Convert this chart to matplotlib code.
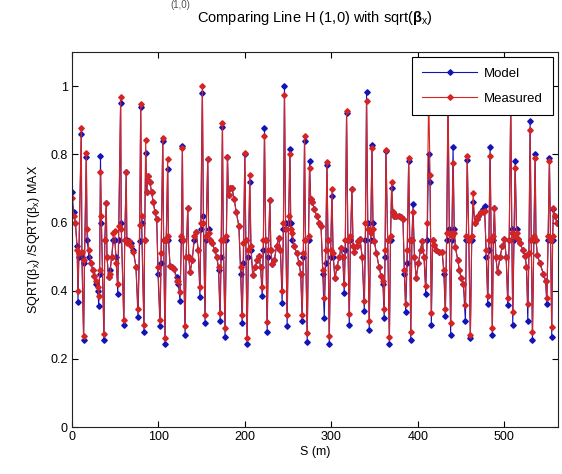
import matplotlib
matplotlib.use("Agg")
import matplotlib.pyplot as plt

plt.rcParams['font.family'] = ['Liberation Sans', 'DejaVu Sans']
plt.rcParams['mathtext.fontset'] = 'custom'
plt.rcParams['mathtext.rm'] = 'Liberation Sans'
plt.rcParams['mathtext.it'] = 'Liberation Sans'
plt.rcParams['mathtext.bf'] = 'Liberation Sans:bold'

# position along the ring (m), model and measured normalized sqrt(beta_x)
s_pos = [0, 2, 4, 6, 7, 8, 10.8, 11.5, 13.5, 14.5, 16.6, 17.5, 19.7, 22, 24, 26, 28, 30, 31, 32,
         33, 34, 37, 38, 39.7, 40.5, 42.4, 44, 46, 48, 49.4, 51, 53, 54, 56.3, 57, 60, 61, 62.8, 63.5,
         65.6, 68, 71, 74, 76.4, 78.3, 79.5, 80.5, 83.3, 84, 85.3, 86.5, 88, 90, 92, 94, 96, 98, 99.5, 101.8,
         103, 105, 106, 107.6, 109, 110.7, 111.5, 113.4, 116, 118, 121, 123, 125, 126.5, 127.7, 128.5, 130.8, 132, 133.9, 135,
         136.6, 139, 141.5, 143.5, 146, 148, 149, 150.8, 152, 153.9, 155, 157, 158, 159.7, 162, 165, 167.5, 169.5, 171.3, 172.5,
         174, 175, 177, 178.5, 179.8, 181, 182.5, 185, 187.5, 190, 193, 195, 196.8, 198.3, 199.9, 201, 202.5, 204, 205.6, 207,
         209, 212, 214, 216, 218, 220, 221.3, 222.6, 224, 225.7, 227, 228.8, 230, 231.5, 234, 236.5, 239, 241, 243, 244.5,
         245.7, 247, 248.8, 250.5, 252, 253, 254.6, 257, 260, 262.4, 264.5, 266.2, 267.5, 268.9, 270, 272, 273.5, 274.7, 276, 278,
         280, 283, 286, 288, 290, 291.7, 293.3, 294.8, 296, 297.5, 299, 300.6, 302, 304, 306.5, 309, 311, 313, 314.8, 316,
         317.5, 319, 320.6, 322, 323.7, 325, 326.4, 329, 331, 333, 335.5, 338, 339.3, 340.6, 342, 343.7, 345.3, 346.9, 348, 349.5,
         352, 355, 357.3, 359.5, 361, 362, 363, 365, 367, 368.3, 369.6, 371, 372.7, 375, 378, 380.5, 382.7, 384.3, 385.8, 387.5,
         389.3, 390.5, 391.7, 393, 394.3, 396, 398, 400.5, 403, 405, 407, 409, 410.7, 412.4, 414, 415.5, 417, 418.6, 421, 424,
         428, 430, 431.7, 433.2, 434.8, 436.3, 437.8, 439.2, 440.6, 442, 443.3, 446, 448, 450, 452.5, 454.9, 456, 457, 458.8, 460.6,
         462.2, 463.8, 465.5, 468, 470, 473, 475, 477, 479, 480.7, 482, 483.4, 484.7, 486, 487.2, 488.4, 490, 492, 495, 497.5,
         500, 502, 503.8, 505.5, 507.3, 508.5, 509.6, 511, 512.4, 514, 515.4, 518, 521, 523.9, 525.5, 527, 528.3, 529.7, 531, 532.4,
         534, 535.5, 536.5, 538, 541, 545, 547.5, 549, 550.5, 552, 553.3, 554.7, 555.7, 556.7, 558.5, 560.5]

model = [0.689, 0.63, 0.60, 0.53, 0.368, 0.50, 0.86, 0.50, 0.254, 0.48, 0.793, 0.55, 0.50, 0.48, 0.46, 0.444, 0.42, 0.40, 0.354, 0.45,
         0.795, 0.60, 0.254, 0.55, 0.656, 0.50, 0.44, 0.46, 0.50, 0.55, 0.55, 0.50, 0.39, 0.55, 0.95, 0.60, 0.30, 0.55, 0.747, 0.55,
         0.547, 0.54, 0.52, 0.47, 0.322, 0.547, 0.94, 0.60, 0.278, 0.55, 0.805, 0.69, 0.737, 0.72, 0.69, 0.66, 0.63, 0.61, 0.45, 0.298,
         0.48, 0.84, 0.55, 0.243, 0.55, 0.756, 0.55, 0.474, 0.47, 0.465, 0.44, 0.42, 0.37, 0.55, 0.824, 0.55, 0.27, 0.50, 0.644, 0.50,
         0.454, 0.49, 0.55, 0.573, 0.52, 0.381, 0.58, 0.98, 0.62, 0.306, 0.55, 0.786, 0.58, 0.55, 0.54, 0.52, 0.498, 0.46, 0.31, 0.50,
         0.88, 0.55, 0.264, 0.55, 0.793, 0.68, 0.70, 0.70, 0.67, 0.63, 0.589, 0.45, 0.306, 0.48, 0.80, 0.55, 0.243, 0.50, 0.72, 0.52,
         0.447, 0.47, 0.49, 0.503, 0.47, 0.386, 0.52, 0.876, 0.55, 0.28, 0.50, 0.667, 0.52, 0.477, 0.49, 0.53, 0.554, 0.52, 0.365, 0.58,
         1.0, 0.60, 0.297, 0.60, 0.817, 0.60, 0.55, 0.53, 0.51, 0.482, 0.45, 0.31, 0.50, 0.84, 0.55, 0.25, 0.55, 0.78, 0.67, 0.66,
         0.64, 0.62, 0.60, 0.59, 0.45, 0.32, 0.48, 0.77, 0.55, 0.244, 0.50, 0.677, 0.50, 0.436, 0.47, 0.50, 0.524, 0.50, 0.394, 0.52,
         0.92, 0.55, 0.30, 0.55, 0.698, 0.53, 0.513, 0.53, 0.545, 0.552, 0.50, 0.342, 0.55, 0.983, 0.60, 0.284, 0.55, 0.827, 0.60, 0.547,
         0.51, 0.47, 0.444, 0.42, 0.32, 0.50, 0.81, 0.55, 0.245, 0.55, 0.70, 0.63, 0.62, 0.62, 0.62, 0.615, 0.611, 0.45, 0.339, 0.48,
         0.78, 0.55, 0.255, 0.55, 0.654, 0.50, 0.436, 0.48, 0.52, 0.547, 0.50, 0.39, 0.55, 0.80, 0.72, 0.30, 0.55, 0.535, 0.52, 0.515,
         0.514, 0.45, 0.325, 0.55, 0.96, 0.58, 0.27, 0.55, 0.823, 0.58, 0.527, 0.49, 0.46, 0.436, 0.42, 0.31, 0.55, 0.785, 0.55, 0.26,
         0.55, 0.66, 0.60, 0.61, 0.62, 0.63, 0.64, 0.649, 0.50, 0.36, 0.52, 0.823, 0.55, 0.27, 0.55, 0.644, 0.50, 0.454, 0.50, 0.53,
         0.553, 0.50, 0.357, 0.55, 0.95, 0.58, 0.30, 0.55, 0.78, 0.58, 0.553, 0.54, 0.52, 0.503, 0.47, 0.31, 0.51, 0.897, 0.55, 0.255,
         0.55, 0.80, 0.55, 0.506, 0.48, 0.45, 0.43, 0.36, 0.55, 0.79, 0.55, 0.265, 0.55, 0.64, 0.62, 0.60]

measured = [0.673, 0.62, 0.60, 0.52, 0.398, 0.51, 0.876, 0.515, 0.267, 0.49, 0.805, 0.58, 0.52, 0.48, 0.46, 0.444, 0.43, 0.41, 0.386, 0.46,
            0.747, 0.62, 0.272, 0.55, 0.656, 0.50, 0.44, 0.45, 0.50, 0.57, 0.576, 0.48, 0.42, 0.59, 0.969, 0.58, 0.313, 0.55, 0.747, 0.54,
            0.547, 0.53, 0.513, 0.47, 0.346, 0.594, 0.947, 0.62, 0.30, 0.55, 0.842, 0.69, 0.737, 0.72, 0.69, 0.66, 0.63, 0.61, 0.47, 0.313,
            0.51, 0.849, 0.55, 0.26, 0.55, 0.787, 0.56, 0.474, 0.47, 0.465, 0.43, 0.43, 0.396, 0.56, 0.82, 0.55, 0.298, 0.50, 0.644, 0.50,
            0.454, 0.49, 0.56, 0.573, 0.52, 0.41, 0.60, 1.0, 0.60, 0.33, 0.56, 0.786, 0.57, 0.55, 0.54, 0.52, 0.498, 0.47, 0.336, 0.55,
            0.893, 0.55, 0.29, 0.56, 0.793, 0.68, 0.70, 0.70, 0.67, 0.63, 0.589, 0.47, 0.33, 0.54, 0.803, 0.55, 0.26, 0.52, 0.74, 0.53,
            0.447, 0.47, 0.49, 0.503, 0.47, 0.41, 0.55, 0.853, 0.55, 0.307, 0.52, 0.667, 0.52, 0.477, 0.49, 0.53, 0.554, 0.52, 0.40, 0.60,
            0.974, 0.58, 0.33, 0.62, 0.80, 0.58, 0.57, 0.53, 0.51, 0.482, 0.45, 0.33, 0.51, 0.853, 0.55, 0.275, 0.56, 0.761, 0.67, 0.66,
            0.64, 0.62, 0.60, 0.59, 0.46, 0.38, 0.52, 0.779, 0.55, 0.267, 0.52, 0.698, 0.51, 0.436, 0.47, 0.50, 0.524, 0.50, 0.42, 0.55,
            0.927, 0.55, 0.333, 0.56, 0.698, 0.53, 0.513, 0.53, 0.545, 0.552, 0.50, 0.37, 0.60, 0.958, 0.58, 0.31, 0.57, 0.82, 0.58, 0.547,
            0.51, 0.47, 0.444, 0.43, 0.345, 0.52, 0.813, 0.55, 0.264, 0.56, 0.719, 0.63, 0.62, 0.62, 0.62, 0.615, 0.611, 0.46, 0.362, 0.52,
            0.79, 0.55, 0.28, 0.55, 0.63, 0.50, 0.436, 0.48, 0.52, 0.547, 0.50, 0.415, 0.60, 0.98, 0.74, 0.336, 0.55, 0.535, 0.52, 0.515,
            0.514, 0.46, 0.345, 0.57, 0.99, 0.57, 0.304, 0.56, 0.775, 0.57, 0.527, 0.49, 0.46, 0.436, 0.42, 0.359, 0.56, 0.795, 0.55, 0.27,
            0.56, 0.687, 0.60, 0.61, 0.62, 0.63, 0.63, 0.635, 0.52, 0.385, 0.55, 0.795, 0.55, 0.29, 0.56, 0.644, 0.50, 0.454, 0.50, 0.53,
            0.553, 0.50, 0.38, 0.55, 0.96, 0.57, 0.337, 0.56, 0.76, 0.57, 0.553, 0.54, 0.52, 0.503, 0.47, 0.36, 0.51, 0.873, 0.55, 0.28,
            0.56, 0.79, 0.55, 0.506, 0.48, 0.45, 0.43, 0.38, 0.56, 0.78, 0.55, 0.293, 0.56, 0.644, 0.62, 0.60]

series_labels = ["Model", "Measured"]
x_ticks = [0, 100, 200, 300, 400, 500]
y_ticks = [0, 0.2, 0.4, 0.6, 0.8, 1.0]
y_tick_labels = ["0", "0.2", "0.4", "0.6", "0.8", "1"]

fig = plt.figure(figsize=(5.62, 4.74), dpi=100)
ax = fig.add_axes([0.128, 0.099, 0.865, 0.791])

blue = '#1414b4'
red = '#d42424'
ax.plot(s_pos, model, '-', color=blue, lw=0.8, marker='D', ms=2.8, mfc=blue, mec=blue, label=series_labels[0])
ax.plot(s_pos, measured, '-', color=red, lw=0.8, marker='D', ms=2.8, mfc=red, mec=red, label=series_labels[1])

ax.set_xlim(0, 562)
ax.set_ylim(0, 1.1)
ax.set_xticks(x_ticks)
ax.set_xticklabels([str(t) for t in x_ticks])
ax.set_yticks(y_ticks)
ax.set_yticklabels(y_tick_labels)
ax.tick_params(direction='in', top=True, right=True, labelsize=9, length=4, width=0.8, pad=3)
for sp in ax.spines.values():
    sp.set_linewidth(0.8)
    sp.set_color('#222222')

ax.set_xlabel('S (m)', fontsize=9, labelpad=2)
ax.set_ylabel(r'SQRT($\beta_x$) /SQRT($\beta_x$) MAX', fontsize=9, labelpad=6)
ax.set_title(r'Comparing Line H (1,0) with sqrt($\mathbf{\beta}_{\mathrm{x}}$)', fontsize=10.5, pad=22)

leg = ax.legend(loc='upper right', fontsize=9.5, frameon=True, fancybox=False,
                edgecolor='black', framealpha=1, borderaxespad=0.4, handlelength=4.2,
                borderpad=0.75, labelspacing=1.0, handletextpad=0.5)
leg.get_frame().set_linewidth(0.8)

# heading fragment above the title (cut off in the source image)
fig.text(0.32, 0.999, '(1,0)', fontsize=7, ha='center', va='top', color='#555555')

fig.savefig('out.png', dpi=100)
